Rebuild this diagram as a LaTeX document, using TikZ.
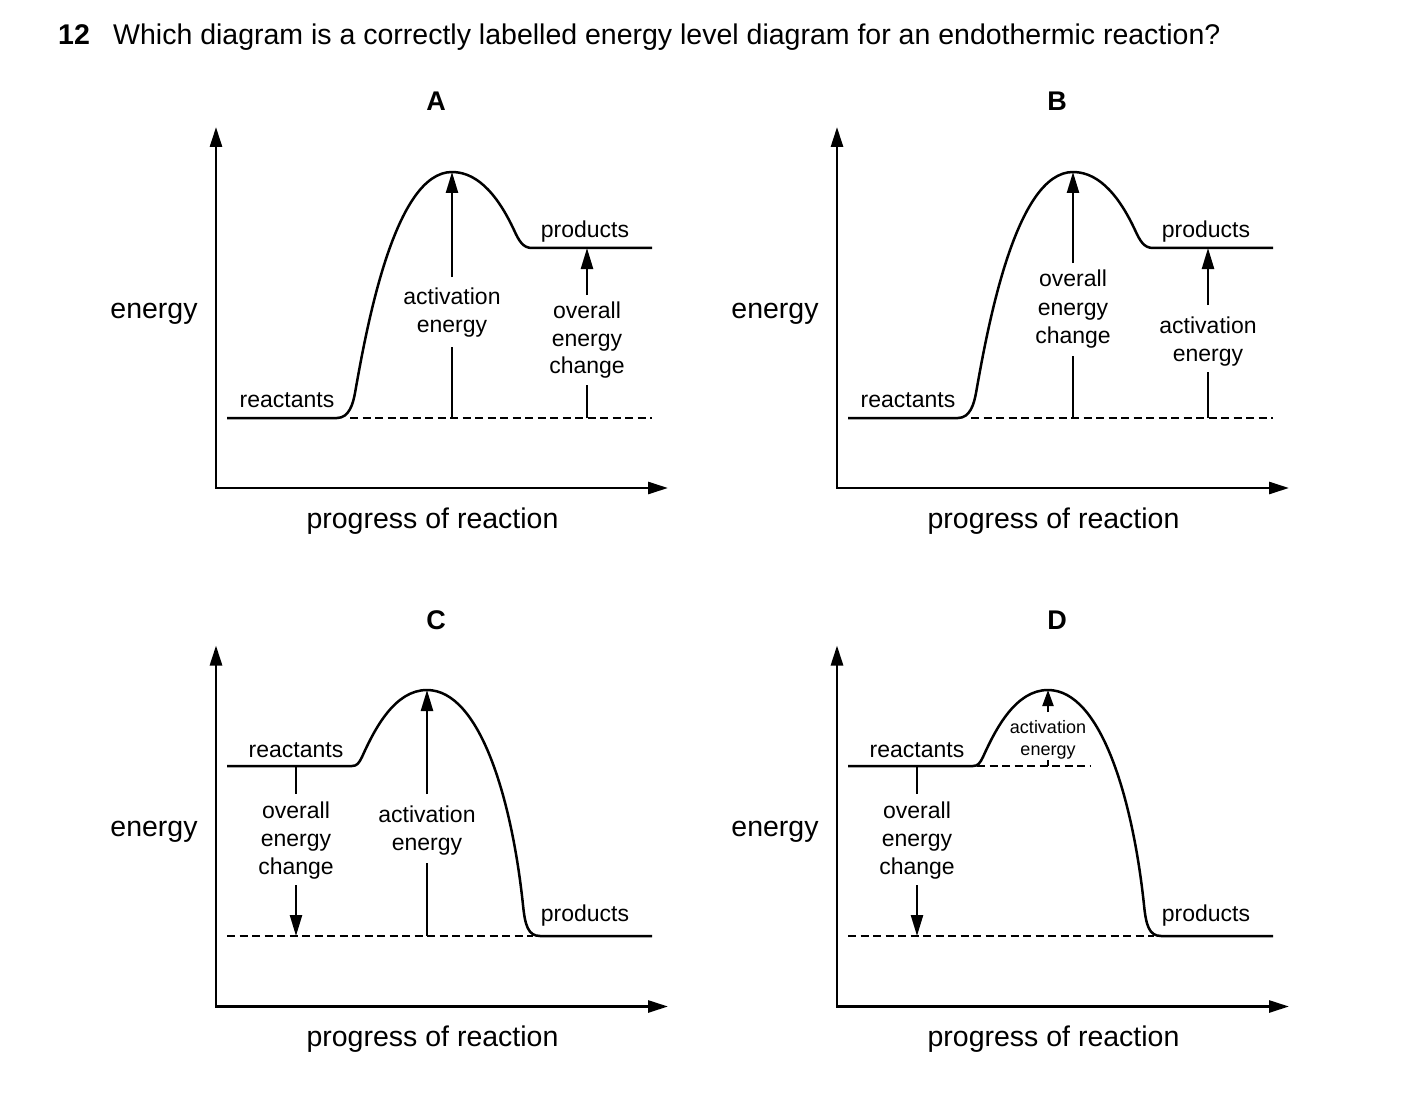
\documentclass[tikz,border=0pt]{standalone}
\usepackage{fontspec}
\setmainfont{Liberation Sans}
\usetikzlibrary{arrows.meta}
\tikzset{
  axisline/.style={line width=2.7pt, line join=miter,
    {Triangle[length=20pt,width=12pt]}-{Triangle[length=20pt,width=12pt]}},
  curveline/.style={line width=2.5pt, line join=round},
  dashlevel/.style={line width=1.3pt, dash pattern=on 8pt off 4.5pt},
  uparrow/.style={line width=2.4pt, -{Triangle[length=21pt,width=12pt]}},
  smallarrow/.style={line width=2.2pt, -{Triangle[length=16pt,width=11pt]}},
  stemline/.style={line width=2.4pt},
  lbl/.style={font=\fontsize{23}{28}\selectfont, anchor=base, inner sep=0pt},
  smalllbl/.style={font=\fontsize{18}{22}\selectfont, anchor=base, inner sep=0pt},
  axlbl/.style={font=\fontsize{28.5}{34}\selectfont, anchor=base, inner sep=0pt},
  panellbl/.style={font=\bfseries\fontsize{27}{32}\selectfont, anchor=base, inner sep=0pt},
  titlelbl/.style={font=\fontsize{28.5}{34}\selectfont, anchor=base west, inner sep=0pt},
}
\newcommand\energyframe[2]{%
  \coordinate (#1o) at (216,488);
  \coordinate (#1yt) at (216,127);
  \coordinate (#1xt) at (668,488);
  \draw[axisline] (#1yt) -- (#1o) -- (#1xt);
  \node[axlbl] (#1en) at (154,318) {energy};
  \node[axlbl] (#1pr) at (432.5,528) {progress of reaction};
  \node[panellbl] (#1let) at (436,111) {#2};
}
\newcommand\humpAB[1]{%
  \coordinate (#1r0) at (227,418);
  \coordinate (#1r1) at (337,418);
  \coordinate (#1pk) at (452,172);
  \coordinate (#1p0) at (532,248);
  \coordinate (#1p1) at (652,248);
  \coordinate (#1d0) at (350,418);
  \coordinate (#1d1) at (652,418);
  \draw[dashlevel] (#1d0) -- (#1d1);
  \draw[curveline] (#1r0) -- (#1r1) .. controls (349,418) and (353,404) .. (355,393)
    .. controls (367,325) and (395,172) .. (#1pk)
    .. controls (480,172) and (500,200) .. (514,230)
    .. controls (519,241) and (523,248) .. (#1p0) -- (#1p1);
  \node[lbl] (#1rea) at (287,407) {reactants};
  \node[lbl] (#1pro) at (585,237) {products};
}
\newcommand\humpCD[1]{%
  \coordinate (#1r0) at (227,766);
  \coordinate (#1r1) at (352,766);
  \coordinate (#1pk) at (427,690);
  \coordinate (#1p0) at (540,936);
  \coordinate (#1p1) at (652,936);
  \coordinate (#1d0) at (227,936);
  \coordinate (#1d1) at (533,936);
  \draw[dashlevel] (#1d0) -- (#1d1);
  \draw[curveline] (#1r0) -- (#1r1) .. controls (357,766) and (359,763) .. (362,757)
    .. controls (375,728) and (395,690) .. (#1pk)
    .. controls (480,690) and (512,800) .. (523,905)
    .. controls (525,925) and (528,936) .. (#1p0) -- (#1p1);
  \node[lbl] (#1rea) at (296,757) {reactants};
  \node[lbl] (#1pro) at (585,921) {products};
  % overall energy change (down arrow)
  \coordinate (#1oa) at (296,766);
  \coordinate (#1ob) at (296,794);
  \coordinate (#1oc) at (296,885);
  \coordinate (#1od) at (296,936);
  \draw[stemline] (#1oa) -- (#1ob);
  \draw[uparrow] (#1oc) -- (#1od);
  \node[lbl] (#1ov1) at (296,818) {overall};
  \node[lbl] (#1ov2) at (296,846) {energy};
  \node[lbl] (#1ov3) at (296,874) {change};
}
\begin{document}
\begin{tikzpicture}[x=1pt,y=-1pt]
\useasboundingbox (0,0) rectangle (1403,1102);
\node[titlelbl] (qnum) at (58,45) {\bfseries 12};
\node[titlelbl] (qtext) at (113,45) {Which diagram is a correctly labelled energy level diagram for an endothermic reaction?};

% ---------- A ----------
\begin{scope}
  \energyframe{A}{A}
  \humpAB{A}
  \coordinate (Aa0) at (452,418);
  \coordinate (Aa1) at (452,347);
  \coordinate (Aa2) at (452,277);
  \draw[stemline] (Aa0) -- (Aa1);
  \draw[uparrow] (Aa2) -- (Apk);
  \node[lbl] (Aac1) at (452,304) {activation};
  \node[lbl] (Aac2) at (452,332) {energy};
  \coordinate (Ao0) at (587,418);
  \coordinate (Ao1) at (587,385);
  \coordinate (Ao2) at (587,295);
  \coordinate (Ao3) at (587,248);
  \draw[stemline] (Ao0) -- (Ao1);
  \draw[uparrow] (Ao2) -- (Ao3);
  \node[lbl] (Aov1) at (587,318) {overall};
  \node[lbl] (Aov2) at (587,346) {energy};
  \node[lbl] (Aov3) at (587,373) {change};
\end{scope}

% ---------- B ----------
\begin{scope}[shift={(621,0)}]
  \energyframe{B}{B}
  \humpAB{B}
  \coordinate (Bo0) at (452,418);
  \coordinate (Bo1) at (452,356);
  \coordinate (Bo2) at (452,263);
  \draw[stemline] (Bo0) -- (Bo1);
  \draw[uparrow] (Bo2) -- (Bpk);
  \node[lbl] (Bov1) at (452,287) {overall};
  \node[lbl] (Bov2) at (452,315) {energy};
  \node[lbl] (Bov3) at (452,343) {change};
  \coordinate (Ba0) at (587,418);
  \coordinate (Ba1) at (587,372);
  \coordinate (Ba2) at (587,305);
  \coordinate (Ba3) at (587,248);
  \draw[stemline] (Ba0) -- (Ba1);
  \draw[uparrow] (Ba2) -- (Ba3);
  \node[lbl] (Bac1) at (587,333) {activation};
  \node[lbl] (Bac2) at (587,361) {energy};
\end{scope}

% ---------- C ----------
\begin{scope}[shift={(0,518.5)}]
  \energyframe{C}{C}
\end{scope}
\begin{scope}
  \humpCD{C}
  \coordinate (Ca0) at (427,936);
  \coordinate (Ca1) at (427,863);
  \coordinate (Ca2) at (427,794);
  \draw[stemline] (Ca0) -- (Ca1);
  \draw[uparrow] (Ca2) -- (Cpk);
  \node[lbl] (Cac1) at (427,822) {activation};
  \node[lbl] (Cac2) at (427,850) {energy};
\end{scope}

% ---------- D ----------
\begin{scope}[shift={(621,518.5)}]
  \energyframe{D}{D}
\end{scope}
\begin{scope}[shift={(621,0)}]
  \coordinate (Du0) at (356,766);
  \coordinate (Du1) at (469,766);
  \draw[dashlevel] (Du0) -- (Du1);
  \humpCD{D}
  \coordinate (Da0) at (427,766);
  \coordinate (Da1) at (427,760);
  \coordinate (Da2) at (427,712);
  \draw[line width=1.6pt] (Da0) -- (Da1);
  \draw[smallarrow] (Da2) -- (Dpk);
  \node[smalllbl] (Dac1) at (427,733) {activation};
  \node[smalllbl] (Dac2) at (427,755) {energy};
\end{scope}
\end{tikzpicture}
\end{document}
